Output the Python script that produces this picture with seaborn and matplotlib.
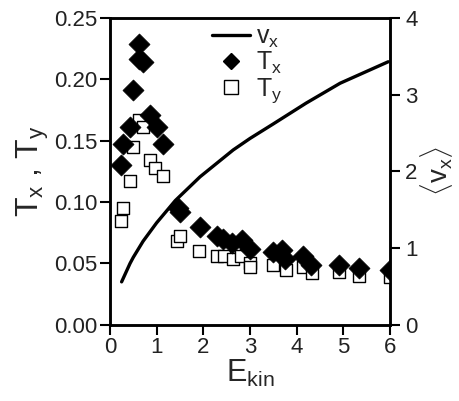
import matplotlib
matplotlib.use("Agg")
import matplotlib.pyplot as plt
import seaborn as sns
import pandas as pd
from matplotlib.lines import Line2D

# ---- data ----
tx_E = [0.23, 0.29, 0.43, 0.50, 0.63, 0.63, 0.71, 0.86, 1.00, 1.14,
        1.45, 1.50, 1.93, 2.29, 2.43, 2.61, 2.82, 3.00, 3.50, 3.68,
        3.75, 4.14, 4.30, 4.91, 5.34, 5.99]
tx_T = [0.130, 0.147, 0.161, 0.191, 0.229, 0.217, 0.214, 0.171, 0.161, 0.147,
        0.095, 0.092, 0.080, 0.072, 0.070, 0.067, 0.069, 0.062, 0.059, 0.061,
        0.054, 0.056, 0.049, 0.049, 0.046, 0.045]

ty_E = [0.23, 0.29, 0.44, 0.50, 0.63, 0.70, 0.86, 0.96, 1.14,
        1.43, 1.51, 1.91, 2.29, 2.44, 2.64, 2.80, 2.99, 3.00, 3.50,
        3.77, 4.14, 4.32, 4.91, 5.34, 5.99]
ty_T = [0.085, 0.095, 0.117, 0.145, 0.167, 0.161, 0.134, 0.128, 0.121,
        0.068, 0.072, 0.060, 0.056, 0.056, 0.054, 0.056, 0.050, 0.047, 0.049,
        0.045, 0.047, 0.042, 0.043, 0.040, 0.039]

vx_E = [0.25, 0.43, 0.50, 0.71, 1.00, 1.40, 1.93, 2.64, 3.00, 3.50, 4.20, 4.93, 5.96]
vx_v = [0.56, 0.80, 0.88, 1.09, 1.33, 1.62, 1.93, 2.28, 2.43, 2.62, 2.89, 3.15, 3.43]

left_ticks = [0.00, 0.05, 0.10, 0.15, 0.20, 0.25]
right_ticks = [0, 1, 2, 3, 4]
x_ticks = [0, 1, 2, 3, 4, 5, 6]

sns.set_theme(style="ticks")
plt.rcParams['font.family'] = ['Liberation Sans', 'DejaVu Sans']
plt.rcParams['mathtext.fontset'] = 'custom'
plt.rcParams['mathtext.rm'] = 'Liberation Sans'
plt.rcParams['mathtext.it'] = 'Liberation Sans'

fig = plt.figure(figsize=(4.6, 4.01), dpi=100)
ax = fig.add_axes([0.239, 0.190, 0.609, 0.765])
ax2 = ax.twinx()

dfx = pd.DataFrame({"E": tx_E, "T": tx_T})
dfy = pd.DataFrame({"E": ty_E, "T": ty_T})
dfv = pd.DataFrame({"E": vx_E, "v": vx_v})

sns.scatterplot(data=dfy, x="E", y="T", ax=ax, marker="s", s=85,
                facecolor="white", edgecolor="black", linewidth=1.0, zorder=3)
sns.scatterplot(data=dfx, x="E", y="T", ax=ax, marker="D", s=115,
                color="black", edgecolor="black", linewidth=0.5, zorder=4)
sns.lineplot(data=dfv, x="E", y="v", ax=ax2, color="black", linewidth=2.4)

ax.set_xlim(0, 6)
ax.set_ylim(0, 0.25)
ax2.set_ylim(0, 4)
ax.set_xticks(x_ticks)
ax.set_yticks(left_ticks)
ax.set_yticklabels([f"{t:.2f}" for t in left_ticks])
ax2.set_yticks(right_ticks)

tc = "#222222"
ax.tick_params(axis="both", direction="out", length=7, width=1.5, labelsize=16, colors="black", labelcolor=tc, pad=2)
ax2.tick_params(axis="y", direction="out", length=7, width=1.5, labelsize=16, colors="black", labelcolor=tc, pad=4)

for a in (ax, ax2):
    for sp in a.spines.values():
        sp.set_visible(True)
        sp.set_linewidth(1.8)
        sp.set_color("black")

ax.set_xlabel(r"E$_\mathregular{kin}$", fontsize=22, labelpad=0)
ax.set_ylabel(r"T$_\mathregular{x}$ , T$_\mathregular{y}$", fontsize=23, labelpad=2)
ax2.set_ylabel(r"$\langle\mathregular{v_x}\rangle$", fontsize=20, labelpad=0, rotation=90)

handles = [
    Line2D([], [], color="black", linewidth=2.4),
    Line2D([], [], color="black", marker="D", linestyle="none", markersize=8),
    Line2D([], [], markerfacecolor="white", markeredgecolor="black", marker="s", linestyle="none", markersize=10),
]
labels = [r"v$_\mathregular{x}$", r"T$_\mathregular{x}$", r"T$_\mathregular{y}$"]
ax2.legend(handles, labels, loc="upper left", bbox_to_anchor=(0.33, 1.01), frameon=False,
           fontsize=18, handlelength=1.5, handletextpad=0.25, labelspacing=0.0, borderaxespad=0)

fig.savefig("out.png", dpi=100)
